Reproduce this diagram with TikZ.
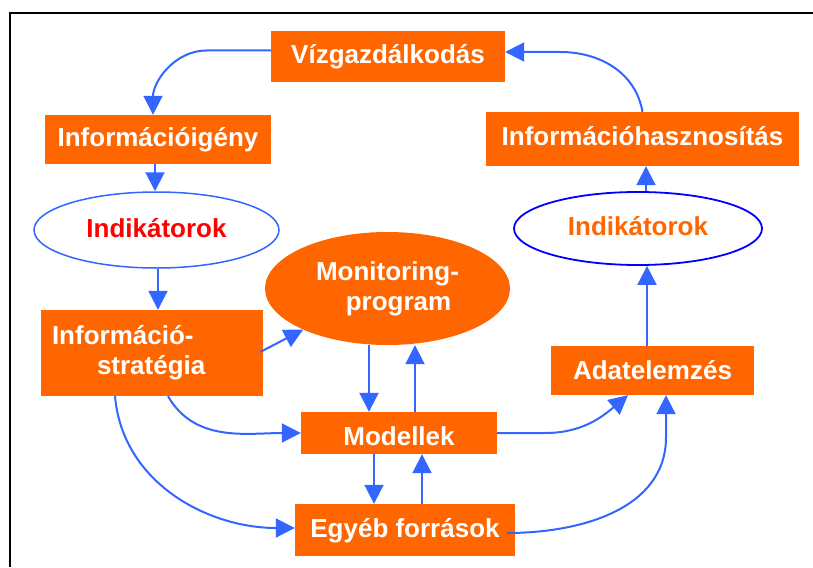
\documentclass[tikz,border=0pt]{standalone}
\usepackage{fontspec}
\setmainfont{Liberation Sans}
\usetikzlibrary{arrows.meta,shapes.geometric}
\definecolor{org}{HTML}{FF6600}
\definecolor{arr}{HTML}{3366FF}
\definecolor{dblue}{HTML}{0000FF}
\definecolor{redtxt}{HTML}{FF0000}
\begin{document}
\begin{tikzpicture}[x=1pt,y=-1pt,
  lbl/.style={font=\bfseries\fontsize{26}{30}\selectfont},
  box/.style={rectangle, fill=org, text=white, lbl, inner sep=0pt, text height=19pt, text depth=5pt},
  multibox/.style={rectangle, fill=org, text=white, lbl, inner sep=0pt},
  ell/.style={ellipse, lbl, inner sep=0pt},
  conn/.style={draw=arr, line width=2pt, -{Triangle[length=19pt,width=19pt]}},
  connrev/.style={draw=arr, line width=2pt, {Triangle[length=19pt,width=19pt]}-}]
\useasboundingbox (0,0) rectangle (813,567);
\draw[line width=2pt] (10.3,567) -- (10.3,13) -- (813,13);

\node[box, minimum width=234pt, minimum height=51pt] (viz) at (388,56.5) {Vízgazdálkodás};
\node[box, minimum width=226pt, minimum height=49pt] (infoigeny) at (158,139.5) {Információigény};
\node[box, minimum width=313pt, minimum height=54pt] (infohasz) at (642.5,139) {Információhasznosítás};
\node[ell, draw=arr, line width=1.5pt, text=redtxt, minimum width=245pt, minimum height=76pt, text height=19pt, text depth=5pt] (indL) at (156.5,230) {Indikátorok};
\node[ell, draw=dblue, line width=1.8pt, text=org, minimum width=248pt, minimum height=73pt, text height=19pt, text depth=5pt] (indR) at (638,228.5) {Indikátorok};
\node[ell, fill=org, text=white, minimum width=245pt, minimum height=113pt, align=center] (monitor) at (387.5,288.5) {Monitoring-\\\hspace*{22pt}program};
\node[multibox, minimum width=222pt, minimum height=86pt, text width=200pt, inner xsep=11pt, align=left] (infostrat) at (152,353) {Információ-\\\hspace*{45pt}stratégia};
\node[box, minimum width=196pt, minimum height=42pt, text height=29pt] (modellek) at (399,433) {Modellek};
\node[box, minimum width=220pt, minimum height=52pt] (egyeb) at (405,530) {Egyéb források};
\node[box, minimum width=203pt, minimum height=49pt, text height=22pt] (adat) at (652.5,370.5) {Adatelemzés};

% top cycle
\draw[conn] ([yshift=6pt]viz.west) -- ++(-64,0) to[out=180,in=90] ([xshift=-5pt]infoigeny.north);
\draw[connrev] ([yshift=4.5pt]viz.east) -- ++(55,0) to[out=0,in=100] (infohasz.north);
\draw[conn] ([xshift=-3pt]infoigeny.south) -- ([xshift=-3pt]infoigeny.south |- indL.north);
\draw[conn] ([xshift=1.5pt]indL.south) -- ([xshift=1.5pt]indL.south |- infostrat.north);
\draw[conn] ([xshift=8pt]indR.north) -- ([xshift=8pt]indR.north |- infohasz.south);
\draw[conn] ([xshift=-5.5pt]adat.north) -- ([xshift=-5.5pt]adat.north |- indR.south);

% information strategy
\draw[conn] ([xshift=-3pt,yshift=1pt]infostrat.east) -- (monitor.206);
\draw[conn] ([xshift=16pt]infostrat.south) to[out=-60,in=180] (modellek.west);
\draw[conn] ([xshift=-37pt]infostrat.south) to[out=-85,in=180] ([yshift=2pt]egyeb.west);

% monitoring / models / sources
\draw[conn] ([xshift=-18.5pt]monitor.south) -- ([xshift=-18.5pt]monitor.south |- modellek.north);
\draw[conn] ([xshift=16pt]modellek.north) -- ([xshift=16pt]modellek.north |- monitor.south);
\draw[conn] ([xshift=-25pt]modellek.south) -- ([xshift=-25pt]modellek.south |- egyeb.north);
\draw[conn] ([xshift=17pt]egyeb.north) -- ([xshift=17pt]egyeb.north |- modellek.south);

% to data analysis
\draw[conn] (modellek.east) -- ++(48,0) to[out=0,in=220] ([xshift=-24.5pt]adat.south);
\draw[connrev] ([xshift=13.5pt]adat.south) -- ++(0,42) to[out=-90,in=0] ([xshift=-8pt,yshift=-3pt]egyeb.east);
\end{tikzpicture}
\end{document}
